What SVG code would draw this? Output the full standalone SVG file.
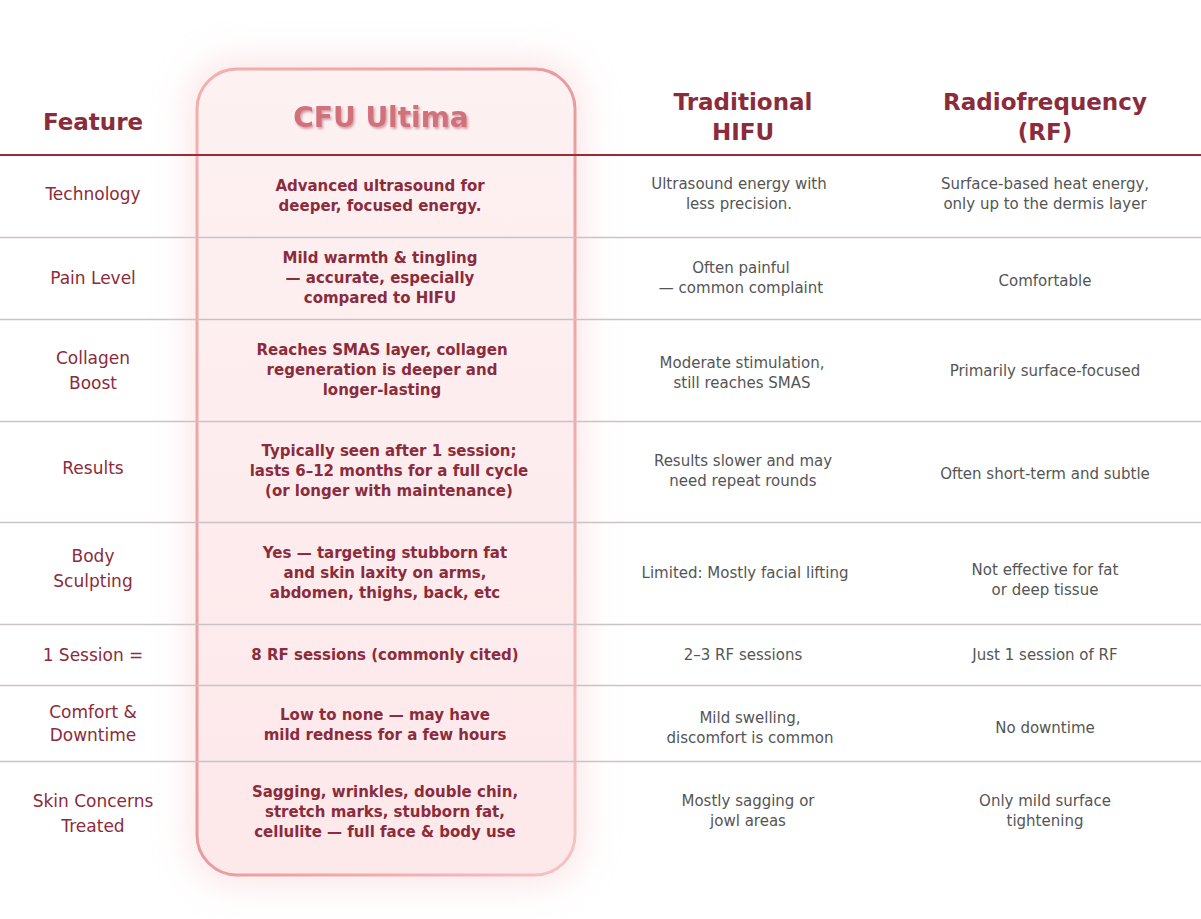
<svg xmlns="http://www.w3.org/2000/svg" width="1201" height="919" viewBox="0 0 1201 919">
<defs>
<style>
text{font-family:"DejaVu Sans","Open Sans",sans-serif;text-anchor:middle}
.h{font-size:23px;font-weight:bold;fill:#8b2b3b}
.f{font-size:17px;fill:#8b2b3b}
.c{font-size:15px;font-weight:bold;fill:#8b2b3b}
.o{font-size:15px;fill:#555}
.rl{stroke:#c9c3c5;stroke-width:1.3}
</style>
<linearGradient id="bg" x1="0" y1="0" x2="0" y2="1"><stop offset="0" stop-color="#fdf1f2"/><stop offset="1" stop-color="#fde8ea"/></linearGradient>
<linearGradient id="bs" x1="0" y1="0" x2="1" y2="1"><stop offset="0" stop-color="#f3b0b0"/><stop offset="0.5" stop-color="#e99a9e"/><stop offset="1" stop-color="#f5c3c3"/></linearGradient>
<filter id="glow" x="-30%" y="-10%" width="160%" height="120%"><feGaussianBlur stdDeviation="18"/></filter>
<filter id="ts"><feDropShadow dx="1.5" dy="2" stdDeviation="1" flood-color="#a04050" flood-opacity="0.45"/></filter>
</defs>
<rect width="1201" height="919" fill="#fff"/>
<rect x="190" y="60" width="392" height="824" rx="44" fill="#f9d3d6" opacity="0.6" filter="url(#glow)"/>
<g id="col-box"><rect x="197" y="69" width="378" height="806" rx="40" fill="url(#bg)" stroke="url(#bs)" stroke-width="3"/></g>
<g id="lines">
<line x1="0" y1="155" x2="1201" y2="155" stroke="#9a2c3a" stroke-width="2"/>
<line class="rl" x1="0" y1="237.5" x2="1201" y2="237.5"/>
<line class="rl" x1="0" y1="319.5" x2="1201" y2="319.5"/>
<line class="rl" x1="0" y1="421.5" x2="1201" y2="421.5"/>
<line class="rl" x1="0" y1="522.5" x2="1201" y2="522.5"/>
<line class="rl" x1="0" y1="624.5" x2="1201" y2="624.5"/>
<line class="rl" x1="0" y1="685.5" x2="1201" y2="685.5"/>
<line class="rl" x1="0" y1="761.5" x2="1201" y2="761.5"/>
</g>
<g id="header">
<text class="h" x="93" y="130">Feature</text>
<text x="381" y="127" style="font-size:28px;font-weight:bold;fill:#d0717c" filter="url(#ts)">CFU Ultima</text>
<text class="h" x="743" y="110">Traditional</text><text class="h" x="743" y="140">HIFU</text>
<text class="h" x="1045" y="110">Radiofrequency</text><text class="h" x="1045" y="140">(RF)</text>
</g>
<g id="row1"><text class="f" x="93" y="200">Technology</text>
<text class="c" x="380" y="191">Advanced ultrasound for</text><text class="c" x="380" y="211">deeper, focused energy.</text>
<text class="o" x="739" y="189">Ultrasound energy with</text><text class="o" x="739" y="209">less precision.</text>
<text class="o" x="1045" y="189">Surface-based heat energy,</text><text class="o" x="1045" y="209">only up to the dermis layer</text></g>
<g id="row2"><text class="f" x="93" y="284">Pain Level</text>
<text class="c" x="380" y="263">Mild warmth &amp; tingling</text><text class="c" x="380" y="283">— accurate, especially</text><text class="c" x="380" y="303">compared to HIFU</text>
<text class="o" x="741" y="273">Often painful</text><text class="o" x="741" y="293">— common complaint</text>
<text class="o" x="1045" y="286">Comfortable</text></g>
<g id="row3"><text class="f" x="93" y="364">Collagen</text><text class="f" x="93" y="389">Boost</text>
<text class="c" x="382" y="355">Reaches SMAS layer, collagen</text><text class="c" x="382" y="375">regeneration is deeper and</text><text class="c" x="382" y="395">longer-lasting</text>
<text class="o" x="742" y="368">Moderate stimulation,</text><text class="o" x="742" y="388">still reaches SMAS</text>
<text class="o" x="1045" y="376">Primarily surface-focused</text></g>
<g id="row4"><text class="f" x="93" y="474">Results</text>
<text class="c" x="389" y="456">Typically seen after 1 session;</text><text class="c" x="389" y="476">lasts 6–12 months for a full cycle</text><text class="c" x="389" y="496">(or longer with maintenance)</text>
<text class="o" x="743" y="466">Results slower and may</text><text class="o" x="743" y="486">need repeat rounds</text>
<text class="o" x="1045" y="479">Often short-term and subtle</text></g>
<g id="row5"><text class="f" x="93" y="562">Body</text><text class="f" x="93" y="587">Sculpting</text>
<text class="c" x="385" y="558">Yes — targeting stubborn fat</text><text class="c" x="385" y="578">and skin laxity on arms,</text><text class="c" x="385" y="598">abdomen, thighs, back, etc</text>
<text class="o" x="745" y="578">Limited: Mostly facial lifting</text>
<text class="o" x="1045" y="575">Not effective for fat</text><text class="o" x="1045" y="595">or deep tissue</text></g>
<g id="row6"><text class="f" x="93" y="661">1 Session =</text>
<text class="c" x="385" y="660">8 RF sessions (commonly cited)</text>
<text class="o" x="743" y="660">2–3 RF sessions</text>
<text class="o" x="1045" y="660">Just 1 session of RF</text></g>
<g id="row7"><text class="f" x="93" y="718">Comfort &amp;</text><text class="f" x="93" y="741">Downtime</text>
<text class="c" x="385" y="720">Low to none — may have</text><text class="c" x="385" y="740">mild redness for a few hours</text>
<text class="o" x="750" y="723">Mild swelling,</text><text class="o" x="750" y="743">discomfort is common</text>
<text class="o" x="1045" y="733">No downtime</text></g>
<g id="row8"><text class="f" x="93" y="807">Skin Concerns</text><text class="f" x="93" y="832">Treated</text>
<text class="c" x="385" y="797">Sagging, wrinkles, double chin,</text><text class="c" x="385" y="817">stretch marks, stubborn fat,</text><text class="c" x="385" y="837">cellulite — full face &amp; body use</text>
<text class="o" x="748" y="806">Mostly sagging or</text><text class="o" x="748" y="826">jowl areas</text>
<text class="o" x="1045" y="806">Only mild surface</text><text class="o" x="1045" y="826">tightening</text></g>
</svg>
